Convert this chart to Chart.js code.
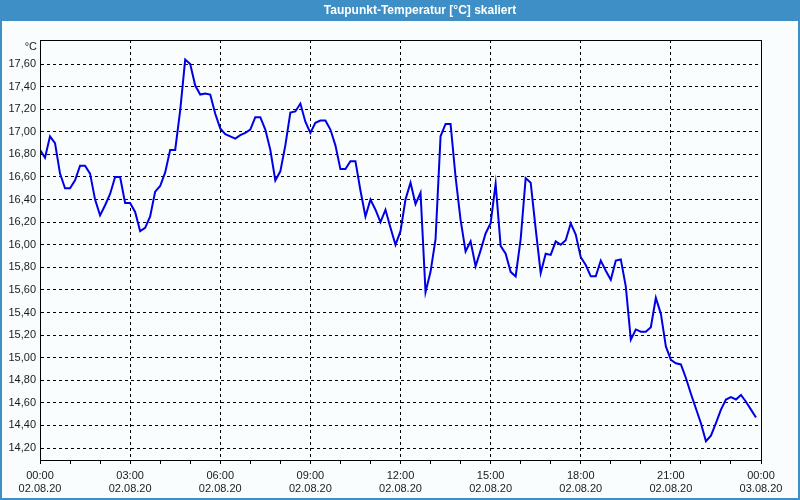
<!DOCTYPE html>
<html>
<head>
<meta charset="utf-8">
<script src="https://cdn.jsdelivr.net/npm/chart.js@4/dist/chart.umd.min.js"></script>
<style>
  html, body { margin: 0; padding: 0; background: #fafdfd; }
  #wrap { width: 800px; height: 500px; position: relative; }
</style>
</head>
<body>
<div id="wrap"><canvas id="c"></canvas></div>
<script>
// ---- data ----
const chartTitle = 'Taupunkt-Temperatur [°C] skaliert';
const unitLabel = '°C';
const stepMinutes = 10; // one reading every 10 minutes from 00:00
const dewPoint = [
  16.84, 16.77, 16.96, 16.90, 16.63, 16.50, 16.50, 16.57, 16.70, 16.70,
  16.63, 16.40, 16.26, 16.35, 16.45, 16.60, 16.60, 16.37, 16.37, 16.29,
  16.12, 16.15, 16.25, 16.47, 16.52, 16.64, 16.84, 16.84, 17.19, 17.64,
  17.60, 17.41, 17.33, 17.34, 17.33, 17.16, 17.03, 16.98, 16.96, 16.94,
  16.97, 16.99, 17.02, 17.13, 17.13, 17.02, 16.84, 16.57, 16.65, 16.88,
  17.17, 17.18, 17.25, 17.09, 16.99, 17.08, 17.10, 17.10, 17.02, 16.88,
  16.67, 16.67, 16.74, 16.74, 16.48, 16.25, 16.40, 16.31, 16.20, 16.31,
  16.15, 16.00, 16.12, 16.40, 16.55, 16.36, 16.46, 15.58, 15.76, 16.05,
  16.96, 17.07, 17.07, 16.60, 16.22, 15.94, 16.03, 15.81, 15.95, 16.10,
  16.19, 16.54, 15.99, 15.92, 15.76, 15.72, 16.05, 16.59, 16.55, 16.14,
  15.75, 15.92, 15.91, 16.03, 16.00, 16.04, 16.19, 16.09, 15.89, 15.82,
  15.72, 15.72, 15.86, 15.77, 15.69, 15.86, 15.87, 15.63, 15.16, 15.25,
  15.23, 15.23, 15.27, 15.53, 15.39, 15.10, 14.98, 14.95, 14.94, 14.82,
  14.68, 14.55, 14.42, 14.26, 14.31, 14.42, 14.54, 14.63, 14.65, 14.63,
  14.67, 14.61, 14.54, 14.47
];
const yTicks = [14.2, 14.4, 14.6, 14.8, 15.0, 15.2, 15.4, 15.6, 15.8, 16.0,
                16.2, 16.4, 16.6, 16.8, 17.0, 17.2, 17.4, 17.6];
const yMin = 14.094, yMax = 17.813;
const xTimeLabels = ['00:00', '03:00', '06:00', '09:00', '12:00', '15:00', '18:00', '21:00', '00:00'];
const xDateLabels = ['02.08.20', '02.08.20', '02.08.20', '02.08.20', '02.08.20', '02.08.20', '02.08.20', '02.08.20', '03.08.20'];
const hoursInDay = 24;

// ---- styling ----
const frameBlue = '#3d8fc5';
const bgColor = '#fafdfd';
const lineBlue = '#0000e6';
Chart.defaults.font.family = '"Liberation Sans", Arial, sans-serif';
Chart.defaults.font.size = 11;
Chart.defaults.color = '#1a1a1a';

const points = dewPoint.map((v, i) => ({ x: i * stepMinutes, y: v }));

const framePlugin = {
  id: 'frame',
  beforeDraw(chart) {
    const ctx = chart.ctx;
    const W = chart.width, H = chart.height;
    ctx.save();
    ctx.fillStyle = bgColor;
    ctx.fillRect(0, 0, W, H);
    ctx.fillStyle = frameBlue;
    ctx.fillRect(0, 0, W, 21);
    ctx.fillRect(0, 0, 2, H);
    ctx.fillRect(W - 2, 0, 2, H);
    ctx.fillRect(0, H - 2, W, 2);
    ctx.restore();
  },
  afterDraw(chart) {
    const ctx = chart.ctx;
    const a = chart.chartArea;
    ctx.save();
    ctx.strokeStyle = '#000';
    ctx.lineWidth = 1;
    ctx.strokeRect(Math.round(a.left) + 0.5, Math.round(a.top) + 0.5,
                   Math.round(a.right - a.left), Math.round(a.bottom - a.top));
    ctx.fillStyle = '#ffffff';
    ctx.font = 'bold 12px "Liberation Sans", Arial, sans-serif';
    ctx.textAlign = 'center';
    ctx.textBaseline = 'middle';
    ctx.fillText(chartTitle, 420, 11);
    ctx.fillStyle = '#1a1a1a';
    ctx.font = '11px "Liberation Sans", Arial, sans-serif';
    ctx.textAlign = 'right';
    ctx.fillText(unitLabel, 37, 47);
    ctx.restore();
  }
};

new Chart(document.getElementById('c'), {
  type: 'line',
  data: {
    datasets: [{
      data: points,
      borderColor: lineBlue,
      borderWidth: 2,
      pointRadius: 0,
      tension: 0,
      fill: false
    }]
  },
  options: {
    responsive: true,
    maintainAspectRatio: false,
    animation: false,
    devicePixelRatio: 1,
    layout: { padding: { left: 0, right: 39, top: 40, bottom: 0 } },
    plugins: { legend: { display: false }, tooltip: { enabled: false }, title: { display: false } },
    scales: {
      x: {
        type: 'linear',
        min: 0,
        max: hoursInDay * 60,
        afterBuildTicks(scale) {
          const t = [];
          for (let h = 0; h <= hoursInDay; h++) t.push({ value: h * 60 });
          scale.ticks = t;
        },
        afterFit(scale) { scale.height = 40; },
        ticks: {
          autoSkip: false,
          maxRotation: 0,
          minRotation: 0,
          padding: 5,
          color: '#1a1a1a',
          callback(value) {
            if (value % 180 !== 0) return '';
            const j = value / 180;
            return [xTimeLabels[j], xDateLabels[j]];
          }
        },
        grid: {
          color: (c) => (c.tick && c.tick.value % 180 === 0 && c.tick.value > 0 && c.tick.value < hoursInDay * 60) ? '#000' : 'rgba(0,0,0,0)',
          tickColor: '#000',
          tickLength: 4,
          lineWidth: 1
        },
        border: { display: true, color: '#000', width: 1, dash: [3, 3] }
      },
      y: {
        type: 'linear',
        min: yMin,
        max: yMax,
        afterBuildTicks(scale) {
          scale.ticks = yTicks.map(v => ({ value: v }));
        },
        afterFit(scale) { scale.width = 40; },
        ticks: {
          padding: 4,
          color: '#1a1a1a',
          callback(value) { return value.toFixed(2).replace('.', ','); }
        },
        grid: { color: '#000', drawTicks: false, lineWidth: 1 },
        border: { display: true, color: '#000', width: 1, dash: [3, 3] }
      }
    }
  },
  plugins: [framePlugin]
});
</script>
</body>
</html>
